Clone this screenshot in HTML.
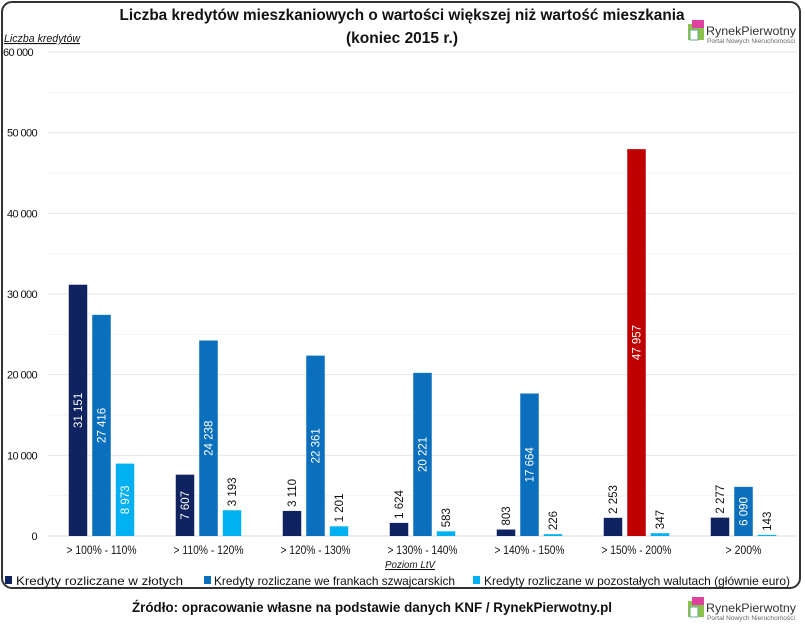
<!DOCTYPE html>
<html><head><meta charset="utf-8">
<style>
body{margin:0;background:#fff;width:805px;height:622px;overflow:hidden;font-family:"Liberation Sans",sans-serif;}
svg text{font-family:"Liberation Sans",sans-serif;}
</style></head>
<body>
<svg id="chart" width="805" height="622" viewBox="0 0 805 622">
<rect x="2" y="2" width="798" height="586" rx="10" fill="#fff" stroke="#333" stroke-width="2"/>
<text x="402" y="20" text-anchor="middle" font-size="16" font-weight="bold" fill="#111" textLength="565" lengthAdjust="spacingAndGlyphs">Liczba kredytów mieszkaniowych o wartości większej niż wartość mieszkania</text>
<text x="402" y="43" text-anchor="middle" font-size="16" font-weight="bold" fill="#111" textLength="112" lengthAdjust="spacingAndGlyphs">(koniec 2015 r.)</text>
<text x="4" y="42" font-size="11" font-style="italic" text-decoration="underline" fill="#111" textLength="76" lengthAdjust="spacingAndGlyphs">Liczba kredytów</text>
<g>
<rect x="688" y="24" width="16" height="16" fill="#8bc34a"/><rect x="692" y="20" width="12" height="8" fill="#e040a0"/><rect x="690" y="30" width="8" height="10" fill="#fff" stroke="#6a9" stroke-width="1"/>
<text x="706" y="35" font-size="12" fill="#333" textLength="90" lengthAdjust="spacingAndGlyphs">RynekPierwotny</text>
<text x="707" y="43" font-size="6" fill="#666" textLength="88" lengthAdjust="spacingAndGlyphs">Portal Nowych Nieruchomości</text>
</g>
<g id="grid"></g><g id="bars"></g><g id="labels"></g>
<text x="410" y="568" text-anchor="middle" font-size="10.5" font-style="italic" text-decoration="underline" fill="#111" textLength="50" lengthAdjust="spacingAndGlyphs">Poziom LtV</text>
<g font-size="12" fill="#111">
<g><rect x="5" y="576" width="7" height="8" fill="#0e2360"/><text x="16" y="585" textLength="167" lengthAdjust="spacingAndGlyphs">Kredyty rozliczane w złotych</text></g>
<g><rect x="204" y="576" width="7" height="8" fill="#0a6fbd"/><text x="214" y="585" textLength="241" lengthAdjust="spacingAndGlyphs">Kredyty rozliczane we frankach szwajcarskich</text></g>
<g><rect x="473" y="576" width="7" height="8" fill="#00b0f0"/><text x="484" y="585" textLength="306" lengthAdjust="spacingAndGlyphs">Kredyty rozliczane w pozostałych walutach (głównie euro)</text></g>
</g>
<text x="372" y="612" text-anchor="middle" font-size="14" font-weight="bold" fill="#111" textLength="480" lengthAdjust="spacingAndGlyphs">Źródło: opracowanie własne na podstawie danych KNF / RynekPierwotny.pl</text>
<g>
<rect x="688" y="601" width="16" height="16" fill="#8bc34a"/><rect x="692" y="597" width="12" height="8" fill="#e040a0"/><rect x="690" y="607" width="8" height="10" fill="#fff" stroke="#6a9" stroke-width="1"/>
<text x="706" y="612" font-size="12" fill="#333" textLength="90" lengthAdjust="spacingAndGlyphs">RynekPierwotny</text>
<text x="707" y="620" font-size="6" fill="#666" textLength="88" lengthAdjust="spacingAndGlyphs">Portal Nowych Nieruchomości</text>
</g>
</svg>
<script>
const categories=["> 100% - 110%","> 110% - 120%","> 120% - 130%","> 130% - 140%","> 140% - 150%","> 150% - 200%","> 200%"];
const plnValues=[31151,7607,3110,1624,803,2253,2277];
const chfValues=[27416,24238,22361,20221,17664,47957,6090];
const otherValues=[8973,3193,1201,583,226,347,143];
const yTicks=[0,10000,20000,30000,40000,50000,60000];
const yTickLabels=["0","10 000","20 000","30 000","40 000","50 000","60 000"];

const NS="http://www.w3.org/2000/svg";
const x0=48,step=107,y0=536,yMax=60000,yH=484;
function y(v){return y0-v/yMax*yH;}
function groupCenter(i){return x0+step/2+i*step;}
function fmt(v){return v.toString().replace(/\B(?=(\d{3})+(?!\d))/g," ");}
function mk(tag,attrs,parent){const e=document.createElementNS(NS,tag);for(const k in attrs)e.setAttribute(k,attrs[k]);parent.appendChild(e);return e;}
const grid=document.getElementById('grid'),bars=document.getElementById('bars'),labels=document.getElementById('labels');
for(let v=5000;v<yMax;v+=10000){
  const l=mk('line',{x1:x0,x2:797,y1:y(v),y2:y(v),stroke:'#f3f3f3','stroke-width':1},grid);
  
  
}
yTicks.forEach((v,i)=>{
  const l=mk('line',{x1:x0,x2:797,y1:y(v),y2:y(v),stroke:v===0?'#d9d9d9':'#e6e6e6','stroke-width':1},grid);
  
  
  const top=i===yTicks.length-1;
  const t=mk('text',{x:top?3:37,y:y(v)+4,'text-anchor':top?'start':'end','font-size':11,fill:'#111','letter-spacing':'-0.6'},grid);
  t.textContent=yTickLabels[i];
  
  
});
const series=[{vals:plnValues,color:'#0e2360',name:'pln'},{vals:chfValues,color:'#0a6fbd',name:'chf'},{vals:otherValues,color:'#00b0f0',name:'other'}];
categories.forEach((c,i)=>{
  const gc=groupCenter(i);
  const t=mk('text',{x:gc,y:554,'text-anchor':'middle','font-size':11.5,fill:'#111',textLength:c.length>8?70:36,lengthAdjust:'spacingAndGlyphs'},labels);
  t.textContent=c;
  
  
  series.forEach((s,j)=>{
    const v=s.vals[i];
    const bw=18.5,cx=gc+(j-1)*23.5;
    let color=s.color;
    if(v===Math.max(...chfValues)&&s.name==='chf')color='#c00000';
    const r=mk('rect',{x:cx-bw/2,y:y(v),width:bw,height:y0-y(v),fill:color},bars);
    
    
    const h=y0-y(v);
    const inside=h>48;
    const ty=inside?(y(v)+y0)/2:y(v)-4;
    const lt=mk('text',{x:cx+4,y:ty,'text-anchor':inside?'middle':'start','font-size':11.5,fill:inside?'#fff':'#111',transform:`rotate(-90 ${cx+4} ${ty})`},labels);
    lt.textContent=fmt(v);
    
    
  });
});
</script>
</body></html>
